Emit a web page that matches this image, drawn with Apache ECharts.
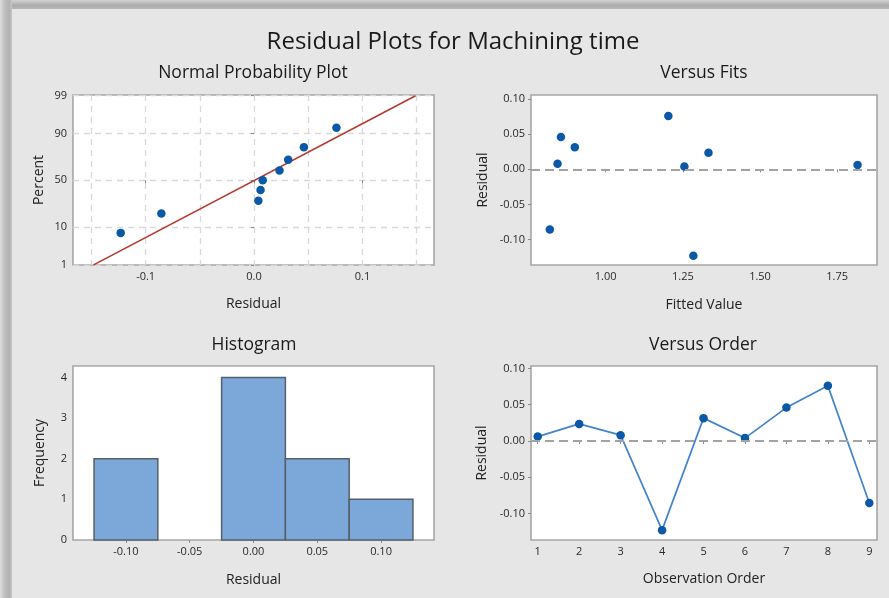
<!DOCTYPE html>
<html><head><meta charset="utf-8">
<script src="https://cdn.jsdelivr.net/npm/echarts@6/dist/echarts.min.js"></script>
<style>html,body{margin:0;padding:0;background:#e6e6e6}#c{width:889px;height:598px}</style>
</head><body><div id="c"></div>
<script>
// ---------------- data ----------------
const observationOrder = [1, 2, 3, 4, 5, 6, 7, 8, 9];
const residuals = [0.0060, 0.0235, 0.0080, -0.1230, 0.0315, 0.0040, 0.0460, 0.0760, -0.0855];
const fittedValues = [1.816, 1.333, 0.844, 1.284, 0.900, 1.255, 0.855, 1.203, 0.819];
const probPercent = [7.4, 18.1, 28.7, 39.4, 50.0, 60.6, 71.3, 81.9, 92.6];
const fitLineResidual = [-0.148, 0.149];
const fitLinePercent = [1, 99];
const binCenters = [-0.10, -0.05, 0.00, 0.05, 0.10];
const binCounts = [2, 0, 4, 2, 1];
const binWidth = 0.05;
const pctTicks = [1, 10, 50, 90, 99];
const normXTicks = [-0.1, 0.0, 0.1];
const normXGrid = [-0.15, -0.10, -0.05, 0.00, 0.05, 0.10, 0.15];
const fitsXTicks = [1.00, 1.25, 1.50, 1.75];
const residTicks = [-0.10, -0.05, 0.00, 0.05, 0.10];
const histXTicks = [-0.10, -0.05, 0.00, 0.05, 0.10];
const freqTicks = [0, 1, 2, 3, 4];

// ---------------- probability scale (normal quantile) ----------------
function normInv(p) {
  const a = [-3.969683028665376e+01, 2.209460984245205e+02, -2.759285104469687e+02, 1.383577518672690e+02, -3.066479806614716e+01, 2.506628277459239e+00];
  const b = [-5.447609879822406e+01, 1.615858368580409e+02, -1.556989798598866e+02, 6.680131188771972e+01, -1.328068155288572e+01];
  const c = [-7.784894002430293e-03, -3.223964580411365e-01, -2.400758277161838e+00, -2.549732539343734e+00, 4.374664141464968e+00, 2.938163982698783e+00];
  const d = [7.784695709041462e-03, 3.224671290700398e-01, 2.445134137142996e+00, 3.754408661907416e+00];
  const pl = 0.02425, ph = 1 - pl;
  let q, r;
  if (p < pl) { q = Math.sqrt(-2 * Math.log(p)); return (((((c[0]*q+c[1])*q+c[2])*q+c[3])*q+c[4])*q+c[5]) / ((((d[0]*q+d[1])*q+d[2])*q+d[3])*q+1); }
  if (p <= ph) { q = p - 0.5; r = q*q; return (((((a[0]*r+a[1])*r+a[2])*r+a[3])*r+a[4])*r+a[5])*q / (((((b[0]*r+b[1])*r+b[2])*r+b[3])*r+b[4])*r+1); }
  q = Math.sqrt(-2 * Math.log(1 - p)); return -(((((c[0]*q+c[1])*q+c[2])*q+c[3])*q+c[4])*q+c[5]) / ((((d[0]*q+d[1])*q+d[2])*q+d[3])*q+1);
}
const zOf = pct => normInv(pct / 100);
const pctTickZ = pctTicks.map(zOf);
const sortedResiduals = residuals.slice().sort((a, b) => a - b);

// ---------------- styles ----------------
const FONT = 'Open Sans';
const LABEL = { fontFamily: FONT, fontSize: 11, color: '#2a2a2a', margin: 6 };
const NAME = { fontFamily: FONT, fontSize: 14, color: '#222' };
const TICK = { show: true, length: 3, lineStyle: { color: '#8c8c8c', width: 1 } };
const GRIDSTYLE = { show: true, backgroundColor: '#ffffff', borderColor: '#a6a6a6', borderWidth: 1.6 };
const DOT = '#0b58a6';
const dashGrid = { show: true, lineStyle: { color: '#d9d9d9', width: 1.3, type: [6, 5] } };

function fmt2(v) { return (Math.abs(v) < 1e-9 ? 0 : v).toFixed(2); }
function fmt1(v) { return (Math.abs(v) < 1e-9 ? 0 : v).toFixed(1); }

const chart = echarts.init(document.getElementById('c'), null, { renderer: 'canvas' });

const option = {
  backgroundColor: '#e6e6e6',
  animation: false,
  graphic: [
    { type: 'rect', shape: { x: 0, y: 0, width: 889, height: 9 }, z: -10,
      style: { fill: new echarts.graphic.LinearGradient(0, 0, 0, 1, [{ offset: 0, color: '#d2d2d2' }, { offset: 0.6, color: '#acacac' }, { offset: 1, color: '#b8b8b8' }]) } },
    { type: 'rect', shape: { x: 0, y: 0, width: 12, height: 598 }, z: -10,
      style: { fill: new echarts.graphic.LinearGradient(0, 0, 1, 0, [{ offset: 0, color: '#dedede' }, { offset: 0.35, color: '#c2c2c2' }, { offset: 0.8, color: '#b2b2b2' }, { offset: 1, color: '#c8c8c8' }]) } },
    { type: 'text', x: 453, y: 42, style: { text: 'Residual Plots for Machining time', fontFamily: FONT, fontSize: 24, fill: '#1a1a1a', align: 'center', verticalAlign: 'middle' } },
    { type: 'text', x: 253, y: 73, style: { text: 'Normal Probability Plot', fontFamily: FONT, fontSize: 17.5, fill: '#1a1a1a', align: 'center', verticalAlign: 'middle' } },
    { type: 'text', x: 704, y: 73, style: { text: 'Versus Fits', fontFamily: FONT, fontSize: 17.5, fill: '#1a1a1a', align: 'center', verticalAlign: 'middle' } },
    { type: 'text', x: 254, y: 345, style: { text: 'Histogram', fontFamily: FONT, fontSize: 17.5, fill: '#1a1a1a', align: 'center', verticalAlign: 'middle' } },
    { type: 'text', x: 703, y: 345, style: { text: 'Versus Order', fontFamily: FONT, fontSize: 17.5, fill: '#1a1a1a', align: 'center', verticalAlign: 'middle' } }
  ],
  grid: [
    Object.assign({ left: 73, top: 95, width: 361, height: 170 }, GRIDSTYLE),
    Object.assign({ left: 531, top: 95, width: 346, height: 170 }, GRIDSTYLE),
    Object.assign({ left: 73, top: 366, width: 361, height: 174 }, GRIDSTYLE),
    Object.assign({ left: 531, top: 366, width: 346, height: 174 }, GRIDSTYLE)
  ],
  xAxis: [
    { gridIndex: 0, type: 'value', min: -0.167, max: 0.166, position: 'bottom',
      axisLine: { show: false }, axisTick: Object.assign({ customValues: normXTicks }, TICK),
      axisLabel: Object.assign({ customValues: normXTicks, formatter: fmt1 }, LABEL),
      splitLine: { show: false },
      name: 'Residual', nameLocation: 'middle', nameGap: 32, nameTextStyle: NAME },
    { gridIndex: 1, type: 'value', min: 0.758, max: 1.879,
      axisLine: { show: false }, axisTick: Object.assign({ customValues: fitsXTicks }, TICK),
      axisLabel: Object.assign({ customValues: fitsXTicks, formatter: fmt2 }, LABEL),
      splitLine: { show: false },
      name: 'Fitted Value', nameLocation: 'middle', nameGap: 33, nameTextStyle: NAME },
    { gridIndex: 2, type: 'value', min: -0.1415, max: 0.1415,
      axisLine: { show: false }, axisTick: Object.assign({ customValues: histXTicks }, TICK),
      axisLabel: Object.assign({ customValues: histXTicks, formatter: fmt2 }, LABEL),
      splitLine: { show: false },
      name: 'Residual', nameLocation: 'middle', nameGap: 33, nameTextStyle: NAME },
    { gridIndex: 3, type: 'value', min: 0.838, max: 9.185,
      axisLine: { show: false }, axisTick: Object.assign({ customValues: observationOrder }, TICK),
      axisLabel: Object.assign({ customValues: observationOrder, formatter: v => String(Math.round(v)) }, LABEL),
      splitLine: { show: false },
      name: 'Observation Order', nameLocation: 'middle', nameGap: 32, nameTextStyle: NAME },
    { gridIndex: 0, type: 'value', min: -0.167, max: 0.166, position: 'top',
      axisLine: { show: false }, axisTick: { show: false, customValues: normXGrid },
      axisLabel: { show: false }, splitLine: dashGrid }
  ],
  yAxis: [
    { gridIndex: 0, type: 'value', min: -2.33, max: 2.345,
      axisLine: { show: false }, axisTick: Object.assign({ customValues: pctTickZ }, TICK),
      axisLabel: Object.assign({ customValues: pctTickZ, formatter: v => {
        let bi = 0; pctTickZ.forEach((z, i) => { if (Math.abs(z - v) < Math.abs(pctTickZ[bi] - v)) bi = i; });
        return String(pctTicks[bi]); } }, LABEL),
      splitLine: dashGrid,
      name: 'Percent', nameLocation: 'middle', nameGap: 27, nameTextStyle: NAME },
    { gridIndex: 1, type: 'value', min: -0.1361, max: 0.1057,
      axisLine: { show: false }, axisTick: Object.assign({ customValues: residTicks }, TICK),
      axisLabel: Object.assign({ customValues: residTicks, formatter: fmt2 }, LABEL),
      splitLine: { show: false },
      name: 'Residual', nameLocation: 'middle', nameGap: 41, nameTextStyle: NAME },
    { gridIndex: 2, type: 'value', min: 0, max: 4.28,
      axisLine: { show: false }, axisTick: Object.assign({ customValues: freqTicks }, TICK),
      axisLabel: Object.assign({ customValues: freqTicks, formatter: v => String(Math.round(v)) }, LABEL),
      splitLine: { show: false },
      name: 'Frequency', nameLocation: 'middle', nameGap: 26, nameTextStyle: NAME },
    { gridIndex: 3, type: 'value', min: -0.1366, max: 0.1034,
      axisLine: { show: false }, axisTick: Object.assign({ customValues: residTicks }, TICK),
      axisLabel: Object.assign({ customValues: residTicks, formatter: fmt2 }, LABEL),
      splitLine: { show: false },
      name: 'Residual', nameLocation: 'middle', nameGap: 42, nameTextStyle: NAME }
  ],
  series: [
    { type: 'line', xAxisIndex: 0, yAxisIndex: 0, showSymbol: false, symbol: 'none', z: 3,
      data: fitLineResidual.map((x, i) => [x, zOf(fitLinePercent[i])]),
      lineStyle: { color: '#b5392e', width: 1.6 } },
    { type: 'scatter', xAxisIndex: 0, yAxisIndex: 0, symbolSize: 8.5, z: 4,
      data: sortedResiduals.map((r, i) => [r, zOf(probPercent[i])]),
      itemStyle: { color: DOT, opacity: 1 } },
    { type: 'scatter', xAxisIndex: 1, yAxisIndex: 1, symbolSize: 8.5, z: 4,
      data: fittedValues.map((f, i) => [f, residuals[i]]),
      itemStyle: { color: DOT, opacity: 1 },
      markLine: { silent: true, symbol: 'none', animation: false, label: { show: false },
        lineStyle: { color: '#a3a3a3', width: 2, type: [9, 5] }, data: [{ yAxis: 0 }] } },
    { type: 'custom', xAxisIndex: 2, yAxisIndex: 2,
      data: binCenters.map((c, i) => [c, binCounts[i]]),
      encode: { x: 0, y: 1 },
      renderItem: function (params, api) {
        const c = api.value(0), n = api.value(1);
        if (!(n > 0)) return null;
        const p0 = api.coord([c - binWidth / 2, n]);
        const p1 = api.coord([c + binWidth / 2, 0]);
        return { type: 'rect', shape: { x: p0[0], y: p0[1], width: p1[0] - p0[0], height: p1[1] - p0[1] },
          style: { fill: '#7ca7d9', stroke: '#56606b', lineWidth: 1.5 } };
      } },
    { type: 'line', xAxisIndex: 3, yAxisIndex: 3, symbol: 'circle', symbolSize: 8.5, z: 4,
      data: observationOrder.map((o, i) => [o, residuals[i]]),
      lineStyle: { color: '#4383cc', width: 1.7 },
      itemStyle: { color: DOT, opacity: 1 },
      markLine: { silent: true, symbol: 'none', animation: false, label: { show: false },
        lineStyle: { color: '#a3a3a3', width: 2, type: [9, 5] }, data: [{ yAxis: 0 }] } }
  ]
};
chart.setOption(option);
</script>
</body></html>
